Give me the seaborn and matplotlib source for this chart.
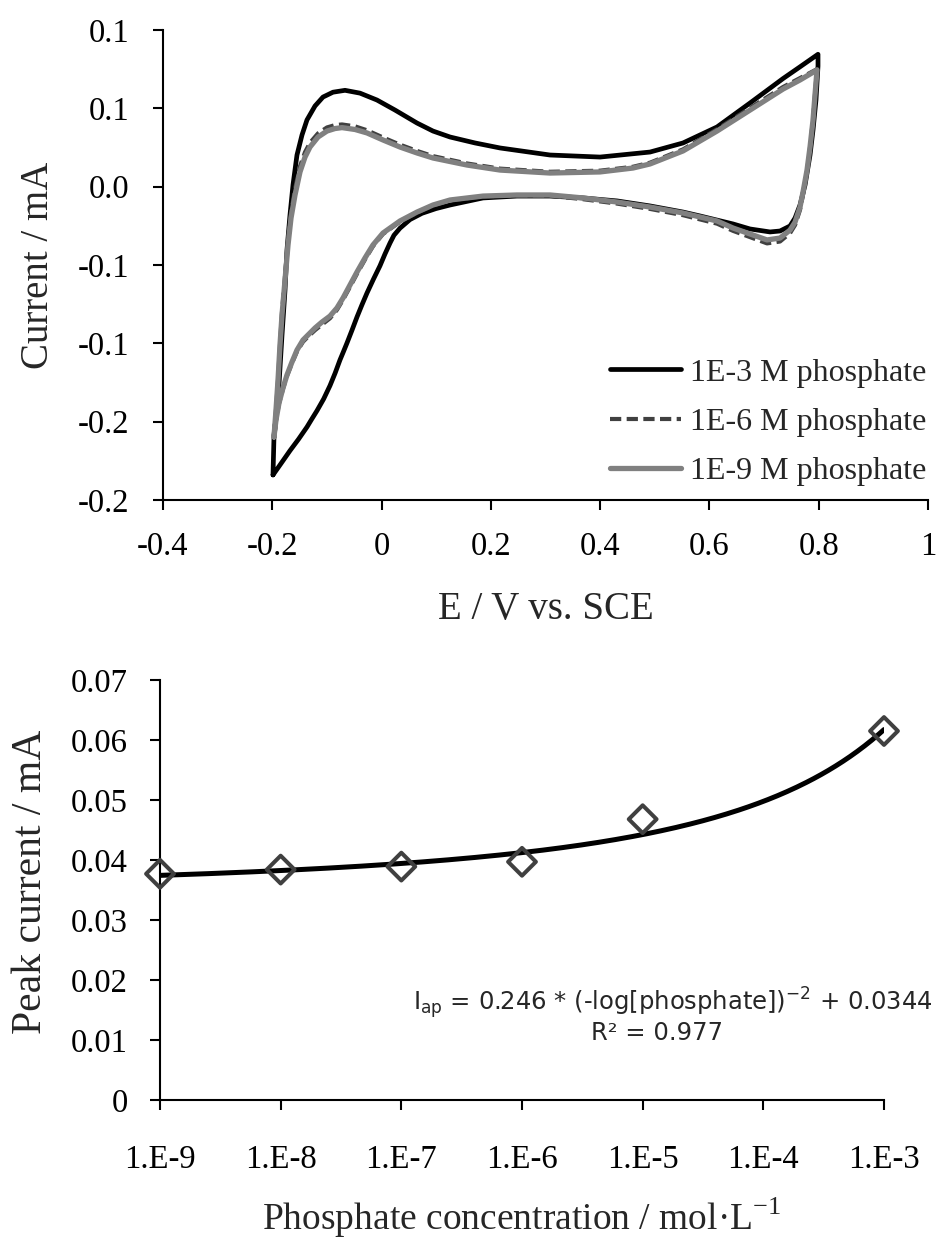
import numpy as np
import pandas as pd
import matplotlib
matplotlib.use("Agg")
import matplotlib.pyplot as plt
import seaborn as sns
from matplotlib.ticker import FixedLocator, FixedFormatter, NullLocator

# ---------------- cyclic voltammograms (E / V vs. SCE, I / mA) ----------------
E_1e3 = [-0.1987, -0.1969, -0.1895, -0.1822, -0.1767, -0.1731, -0.1676, -0.1621, -0.1548,
         -0.1456, -0.1365, -0.1218, -0.1072, -0.0889, -0.0669, -0.0395, -0.0084, 0.0246,
         0.0649, 0.0941, 0.1253, 0.1710, 0.2168, 0.3083, 0.3998, 0.4913, 0.5517, 0.6139,
         0.6743, 0.7347, 0.7658, 0.7987,
         0.7987, 0.7950, 0.7896, 0.7841, 0.7750, 0.7658, 0.7567, 0.7475, 0.7292, 0.7109,
         0.6743, 0.6432, 0.5828, 0.5517, 0.4913, 0.4309, 0.3687, 0.3083, 0.2479, 0.1856,
         0.1253, 0.0995, 0.0740, 0.0520, 0.0337, 0.0227, 0.0154, 0.0062, -0.0029, -0.0148,
         -0.0267, -0.0360, -0.0450, -0.0540, -0.0633, -0.0700, -0.0761, -0.0850, -0.0944,
         -0.1060, -0.1182, -0.1280, -0.1365, -0.1520, -0.1676, -0.1830, -0.1987]
I_1e3 = [-0.1840, -0.1598, -0.1362, -0.0947, -0.0660, -0.0404, -0.0181, 0.0011, 0.0202,
         0.0330, 0.0426, 0.0515, 0.0572, 0.0603, 0.0615, 0.0597, 0.0553, 0.0489,
         0.0406, 0.0355, 0.0317, 0.0279, 0.0247, 0.0202, 0.0189, 0.0221, 0.0279, 0.0381,
         0.0534, 0.0690, 0.0765, 0.0845,
         0.0770, 0.0553, 0.0362, 0.0202, 0.0011, -0.0117, -0.0200, -0.0251, -0.0283, -0.0289,
         -0.0270, -0.0238, -0.0187, -0.0162, -0.0123, -0.0091, -0.0072, -0.0060, -0.0060, -0.0072,
         -0.0117, -0.0140, -0.0170, -0.0210, -0.0265, -0.0310, -0.0360, -0.0430, -0.0505, -0.0590,
         -0.0679, -0.0755, -0.0832, -0.0915, -0.0998, -0.1055, -0.1106, -0.1190, -0.1270,
         -0.1355, -0.1430, -0.1485, -0.1534, -0.1612, -0.1685, -0.1762, -0.1840]

E_1e6 = [-0.1969, -0.1932, -0.1895, -0.1859, -0.1822, -0.1767, -0.1712, -0.1657, -0.1584,
         -0.1493, -0.1401, -0.1310, -0.1163, -0.0999, -0.0852, -0.0724, -0.0486, -0.0267,
         0.0026, 0.0337, 0.0649, 0.0941, 0.1564, 0.2168, 0.3083, 0.3998, 0.4602, 0.4913,
         0.5517, 0.6139, 0.6743, 0.7347, 0.7658, 0.7969,
         0.7932, 0.7896, 0.7841, 0.7786, 0.7713, 0.7658, 0.7567, 0.7475, 0.7292, 0.7054,
         0.6743, 0.6432, 0.6139, 0.5517, 0.4913, 0.4309, 0.3687, 0.3083, 0.2479, 0.1856,
         0.1253, 0.0941, 0.0649, 0.0337, 0.0026, -0.0157, -0.0303, -0.0450, -0.0578,
         -0.0706, -0.0816, -0.0944, -0.1090, -0.1218, -0.1347, -0.1438, -0.1548, -0.1639,
         -0.1731, -0.1804, -0.1877, -0.1932, -0.1969]
I_1e6 = [-0.1598, -0.1425, -0.1234, -0.1011, -0.0800, -0.0570, -0.0340, -0.0165, -0.0015,
         0.0130, 0.0220, 0.0280, 0.0340, 0.0378, 0.0393, 0.0397, 0.0385, 0.0360,
         0.0314, 0.0268, 0.0228, 0.0195, 0.0148, 0.0115, 0.0095, 0.0102, 0.0127, 0.0153,
         0.0238, 0.0366, 0.0502, 0.0636, 0.0693, 0.0750,
         0.0590, 0.0430, 0.0250, 0.0095, -0.0050, -0.0148, -0.0245, -0.0297, -0.0350, -0.0362,
         -0.0322, -0.0282, -0.0236, -0.0182, -0.0142, -0.0108, -0.0080, -0.0058, -0.0056, -0.0062,
         -0.0087, -0.0120, -0.0166, -0.0224, -0.0302, -0.0380, -0.0465, -0.0556, -0.0640,
         -0.0722, -0.0786, -0.0840, -0.0880, -0.0916, -0.0958, -0.0990, -0.1052, -0.1126,
         -0.1208, -0.1290, -0.1385, -0.1490, -0.1598]

E_1e9 = [-0.1969, -0.1932, -0.1895, -0.1859, -0.1822, -0.1767, -0.1712, -0.1657, -0.1584,
         -0.1493, -0.1401, -0.1310, -0.1163, -0.0999, -0.0852, -0.0724, -0.0486, -0.0267,
         0.0026, 0.0337, 0.0649, 0.0941, 0.1564, 0.2168, 0.3083, 0.3998, 0.4602, 0.4913,
         0.5517, 0.6139, 0.6743, 0.7347, 0.7658, 0.7969,
         0.7932, 0.7896, 0.7841, 0.7786, 0.7713, 0.7658, 0.7567, 0.7475, 0.7292, 0.7054,
         0.6743, 0.6432, 0.6139, 0.5517, 0.4913, 0.4309, 0.3687, 0.3083, 0.2479, 0.1856,
         0.1253, 0.0941, 0.0649, 0.0337, 0.0026, -0.0157, -0.0303, -0.0450, -0.0578,
         -0.0706, -0.0816, -0.0944, -0.1090, -0.1218, -0.1347, -0.1438, -0.1548, -0.1639,
         -0.1731, -0.1804, -0.1877, -0.1932, -0.1969]
I_1e9 = [-0.1598, -0.1425, -0.1234, -0.1011, -0.0819, -0.0596, -0.0372, -0.0200, -0.0053,
         0.0094, 0.0189, 0.0253, 0.0317, 0.0355, 0.0371, 0.0377, 0.0365, 0.0343,
         0.0298, 0.0253, 0.0215, 0.0183, 0.0138, 0.0106, 0.0087, 0.0094, 0.0119, 0.0145,
         0.0228, 0.0355, 0.0489, 0.0623, 0.0681, 0.0745,
         0.0585, 0.0426, 0.0253, 0.0106, -0.0034, -0.0130, -0.0226, -0.0277, -0.0328, -0.0340,
         -0.0302, -0.0264, -0.0219, -0.0168, -0.0130, -0.0098, -0.0072, -0.0053, -0.0053, -0.0060,
         -0.0085, -0.0117, -0.0162, -0.0219, -0.0296, -0.0372, -0.0455, -0.0545, -0.0628,
         -0.0711, -0.0774, -0.0826, -0.0864, -0.0902, -0.0947, -0.0979, -0.1043, -0.1119,
         -0.1202, -0.1285, -0.1381, -0.1489, -0.1598]

cv_labels = ["1E-3 M phosphate", "1E-6 M phosphate", "1E-9 M phosphate"]
cv_x_ticks = [-0.4, -0.2, 0.0, 0.2, 0.4, 0.6, 0.8, 1.0]
cv_x_ticklabels = ["-0.4", "-0.2", "0", "0.2", "0.4", "0.6", "0.8", "1"]
cv_y_ticks = [-0.2, -0.15, -0.1, -0.05, 0.0, 0.05, 0.1]
cv_y_ticklabels = ["-0.2", "-0.2", "-0.1", "-0.1", "0.0", "0.1", "0.1"]

# ---------------- calibration (peak current vs concentration) ----------------
conc = [1e-9, 1e-8, 1e-7, 1e-6, 1e-5, 1e-3]
peak_current = [0.0377, 0.0384, 0.0389, 0.0397, 0.0468, 0.0615]
fit_a, fit_b = 0.246, 0.0344          # I_ap = a * (-log c)^-2 + b
fit_r2 = 0.977
conc_ticks = [1e-9, 1e-8, 1e-7, 1e-6, 1e-5, 1e-4, 1e-3]
conc_ticklabels = ["1.E-9", "1.E-8", "1.E-7", "1.E-6", "1.E-5", "1.E-4", "1.E-3"]
peak_ticks = [0.0, 0.01, 0.02, 0.03, 0.04, 0.05, 0.06, 0.07]
peak_ticklabels = ["0", "0.01", "0.02", "0.03", "0.04", "0.05", "0.06", "0.07"]

# ---------------- style ----------------
sns.set_style("ticks")
serif = ["Liberation Serif", "DejaVu Serif"]
plt.rcParams["font.family"] = serif
plt.rcParams["axes.unicode_minus"] = False
plt.rcParams["axes.linewidth"] = 1.5
plt.rcParams["xtick.major.width"] = 1.5
plt.rcParams["ytick.major.width"] = 1.5
plt.rcParams["xtick.major.size"] = 7
plt.rcParams["ytick.major.size"] = 7
plt.rcParams["xtick.direction"] = "out"
plt.rcParams["ytick.direction"] = "out"
plt.rcParams["axes.edgecolor"] = "black"
plt.rcParams["xtick.color"] = "black"
plt.rcParams["ytick.color"] = "black"

TICK_FS = 23.5
LABEL_FS = 28

fig = plt.figure(figsize=(9.37, 12.41), dpi=100)
W, H = 937, 1241

def px_axes(left, top, right, bottom):
    return fig.add_axes([left / W, 1 - bottom / H, (right - left) / W, (bottom - top) / H])

# ---------------- top panel: CV ----------------
ax1 = px_axes(163, 30, 928, 500)
styles = [
    (E_1e3, I_1e3, cv_labels[0], dict(color="black", linewidth=3.4, linestyle="-")),
    (E_1e6, I_1e6, cv_labels[1], dict(color="#404040", linewidth=3.0, linestyle=(0, (2.7, 1.3)))),
    (E_1e9, I_1e9, cv_labels[2], dict(color="#808080", linewidth=3.8, linestyle="-")),
]
for e, i, lab, kw in styles:
    df = pd.DataFrame({"E": e, "I": i})
    sns.lineplot(data=df, x="E", y="I", sort=False, estimator=None, ax=ax1,
                 label=lab, solid_capstyle="round", solid_joinstyle="round", **kw)

ax1.set_xlim(-0.4, 1.0)
ax1.set_ylim(-0.2, 0.1)
ax1.xaxis.set_major_locator(FixedLocator(cv_x_ticks))
ax1.xaxis.set_major_formatter(FixedFormatter(cv_x_ticklabels))
ax1.yaxis.set_major_locator(FixedLocator(cv_y_ticks))
ax1.yaxis.set_major_formatter(FixedFormatter(cv_y_ticklabels))
ax1.tick_params(axis="x", labelsize=TICK_FS, pad=16)
ax1.tick_params(axis="y", labelsize=TICK_FS, pad=17)
sns.despine(ax=ax1)
ax1.set_xlabel("E / V vs. SCE", fontsize=LABEL_FS)
ax1.set_ylabel("Current / mA", fontsize=LABEL_FS)
ax1.xaxis.set_label_coords(0.5, -0.232)
ax1.xaxis.label.set_verticalalignment("center")
ax1.yaxis.set_label_coords(-0.163, 0.5)
ax1.yaxis.label.set_verticalalignment("center")

handles, labels = ax1.get_legend_handles_labels()
ax1.legend(handles, labels, loc="lower right", bbox_to_anchor=(0.998, 0.03),
           frameon=False, fontsize=23, handlelength=2.2, handletextpad=0.3,
           labelspacing=0.62, borderpad=0, borderaxespad=0)

# ---------------- bottom panel: calibration ----------------
ax2 = px_axes(160, 680, 884, 1100)
ax2.set_xscale("log")
log_c = np.linspace(np.log10(conc_ticks[0]), np.log10(conc_ticks[-1]), 300)
fit_curve = fit_a * (-log_c) ** -2 + fit_b
sns.lineplot(x=10 ** log_c, y=fit_curve, ax=ax2, color="black", linewidth=3.6,
             sort=False, estimator=None)
sns.scatterplot(x=conc, y=peak_current, ax=ax2, marker="D", s=200, zorder=5)
pts = ax2.collections[-1]
pts.set_facecolor("none")
pts.set_edgecolor("#404040")
pts.set_linewidth(2.9)
pts.set_clip_on(False)

ax2.set_xlim(conc_ticks[0], conc_ticks[-1])
ax2.set_ylim(0, 0.07)
ax2.xaxis.set_major_locator(FixedLocator(conc_ticks))
ax2.xaxis.set_major_formatter(FixedFormatter(conc_ticklabels))
ax2.xaxis.set_minor_locator(NullLocator())
ax2.yaxis.set_major_locator(FixedLocator(peak_ticks))
ax2.yaxis.set_major_formatter(FixedFormatter(peak_ticklabels))
ax2.tick_params(axis="x", labelsize=TICK_FS, pad=25)
ax2.tick_params(axis="y", labelsize=TICK_FS, pad=16)
sns.despine(ax=ax2)
ax2.set_xlabel("Phosphate concentration / mol·L$^{\\mathregular{-1}}$", fontsize=LABEL_FS - 1)
ax2.set_ylabel("Peak current / mA", fontsize=LABEL_FS + 2)
ax2.xaxis.set_label_coords(0.5, -0.281)
ax2.xaxis.label.set_verticalalignment("center")
ax2.yaxis.set_label_coords(-0.178, 0.52)
ax2.yaxis.label.set_verticalalignment("center")

eq_font = dict(family=["DejaVu Sans"], fontsize=17.5)
ax2.text(0.708, 0.231,
         "I$_{\\mathregular{ap}}$ = %.3f * (-log[phosphate])$^{\\mathregular{-2}}$ + %.4f" % (fit_a, fit_b),
         transform=ax2.transAxes, ha="center", va="center", **eq_font)
ax2.text(0.686, 0.160, "R² = %.3f" % fit_r2, transform=ax2.transAxes,
         ha="center", va="center", **eq_font)

fig.savefig("out.png", dpi=100, facecolor="white")
